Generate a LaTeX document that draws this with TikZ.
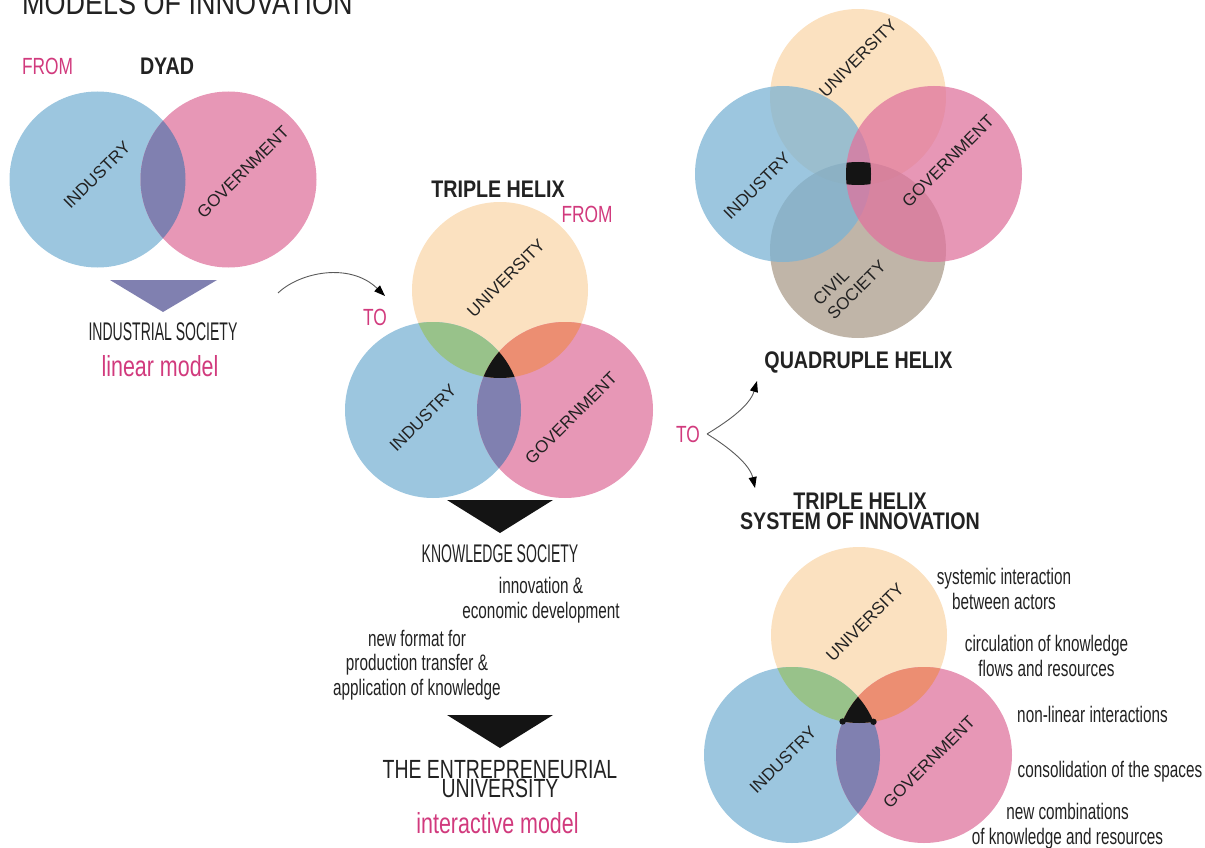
\documentclass[tikz,border=0pt]{standalone}
\usepackage{fontspec}
\setmainfont{Liberation Sans}
\newfontfamily\capsfont[FakeStretch=0.55]{Liberation Sans}
\newfontfamily\condfont[FakeStretch=0.68]{Liberation Sans}
\newfontfamily\midfont[FakeStretch=0.74]{Liberation Sans}
\newfontfamily\headfont[FakeStretch=0.82]{Liberation Sans}
\usetikzlibrary{arrows.meta}

\definecolor{indblue}{HTML}{9CC6DF}
\definecolor{govpink}{HTML}{E797B6}
\definecolor{unipeach}{HTML}{FBE1C0}
\definecolor{ovgreen}{HTML}{98C28A}
\definecolor{ovsalmon}{HTML}{EC8E72}
\definecolor{ovpurple}{HTML}{8080B0}
\definecolor{hotpink}{HTML}{D13A7D}
\definecolor{inkgray}{HTML}{222222}
\definecolor{qblue}{RGB}{123,179,212}
\definecolor{qpink}{RGB}{223,116,158}
\definecolor{qpeach}{RGB}{250,215,171}
\definecolor{qcivil}{RGB}{171,156,139}

\begin{document}
\begin{tikzpicture}[x=1pt,y=-1pt,>={Triangle[black,length=11pt,width=8pt]},
    circ/.style={circle,minimum size=176pt,inner sep=0pt,outer sep=0pt},
    qcirc/.style={circ,fill opacity=0.75},
    lbl/.style={rotate=45,inner sep=0pt,text=inkgray,font=\fontsize{17}{20}\selectfont},
    caps/.style={inner sep=0pt,text=inkgray,font=\capsfont\fontsize{25.5}{25.5}\selectfont},
    note/.style={inner sep=0pt,align=center,text=inkgray,font=\condfont\fontsize{22.5}{24.5}\selectfont},
    heading/.style={inner sep=0pt,align=center,text=inkgray,font=\headfont\bfseries\fontsize{24}{20}\selectfont},
    pinkword/.style={inner sep=0pt,text=hotpink,font=\midfont\fontsize{23.4}{23.4}\selectfont},
    model/.style={inner sep=0pt,text=hotpink,font=\midfont\fontsize{29}{29}\selectfont},
    flow/.style={->,draw=black!65,line width=0.9pt}]

  \useasboundingbox (0,0) rectangle (1205,848);

  \node[anchor=base west,inner sep=0pt,text=inkgray,font=\headfont\fontsize{32.9}{33}\selectfont] (title) at (22,15) {MODELS OF INNOVATION};

  % dyad
  \node[pinkword,anchor=base] (from1) at (47.5,75) {FROM};
  \node[heading,anchor=base] (dyad) at (167,75) {DYAD};
  \node[circ,fill=indblue] (dI) at (97.5,179.5) {};
  \node[circ,fill=govpink] (dG) at (228.5,179.5) {};
  \begin{scope}
    \clip (dI.center) circle (88pt);
    \fill[ovpurple] (dG.center) circle (88pt);
  \end{scope}
  \node[lbl] at (97,175) {INDUSTRY};
  \node[lbl] at (243,172) {GOVERNMENT};
  \fill[ovpurple] (110,280) -- (217,280) -- (163,312) -- cycle;
  \node[caps,anchor=base] (indsoc) at (163,340) {INDUSTRIAL SOCIETY};
  \node[model,anchor=base] (linear) at (160,376.5) {linear model};

  \coordinate (arrA) at (278,293);
  \coordinate (arrB) at (385,296);
  \draw[flow] (arrA) .. controls (300,272) and (350,262) .. (arrB);
  \node[pinkword,anchor=base] (to1) at (375,325) {TO};

  % triple helix circles
  \node[heading,anchor=base] (triple) at (498,197) {TRIPLE HELIX};
  \node[pinkword,anchor=base] (from2) at (587,222) {FROM};
  \node[circ,fill=unipeach] (tU) at (500,290) {};
  \node[circ,fill=indblue] (tI) at (433,410) {};
  \node[circ,fill=govpink] (tG) at (565,410) {};

  \node[circ,fill=unipeach] (bU) at (859,635) {};
  \node[circ,fill=indblue] (bI) at (792,755) {};
  \node[circ,fill=govpink] (bG) at (924,755) {};

  \foreach \h in {t,b}{
    \begin{scope}
      \clip (\h I.center) circle (88pt);
      \fill[ovpurple] (\h G.center) circle (88pt);
    \end{scope}
    \begin{scope}
      \clip (\h U.center) circle (88pt);
      \fill[ovgreen] (\h I.center) circle (88pt);
      \fill[ovsalmon] (\h G.center) circle (88pt);
      \clip (\h I.center) circle (88pt);
      \fill[black!92] (\h G.center) circle (88pt);
    \end{scope}
  }
  \fill[black!92] (842.6,721.5) circle (3.2pt) (873.5,721.8) circle (3.2pt);

  \node[lbl] at (506,278) {UNIVERSITY};
  \node[lbl] at (423,418) {INDUSTRY};
  \node[lbl] at (571,418) {GOVERNMENT};

  \fill[black!92] (447,500) -- (553,500) -- (500,533) -- cycle;
  \node[caps,anchor=base] (knowsoc) at (500,562) {KNOWLEDGE SOCIETY};
  \node[note,anchor=north] (innov) at (541,577) {innovation \&\\economic development};
  \node[note,anchor=north] (format) at (417,630) {new format for\\production transfer \&\\application of knowledge};
  \fill[black!92] (447,715) -- (553,715) -- (500,748) -- cycle;
  \node[inner sep=0pt,align=center,text=inkgray,font=\midfont\fontsize{26.3}{19.5}\selectfont,anchor=north] (entre) at (500,760) {THE ENTREPRENEURIAL\\UNIVERSITY};
  \node[model,anchor=base] (interactive) at (497.5,833) {interactive model};

  % quadruple helix
  \node[qcirc,fill=qpeach] (qU) at (858,97) {};
  \node[qcirc,fill=qcivil] (qC) at (858,250) {};
  \node[qcirc,fill=qblue] (qI) at (783,174) {};
  \node[qcirc,fill=qpink] (qG) at (934,174) {};
  \begin{scope}
    \clip (qU.center) circle (88pt);
    \clip (qI.center) circle (88pt);
    \clip (qG.center) circle (88pt);
    \fill[black!92] (qC.center) circle (88pt);
  \end{scope}
  \node[lbl] at (858,58) {UNIVERSITY};
  \node[lbl] at (757,186) {INDUSTRY};
  \node[lbl] at (948,161) {GOVERNMENT};
  \node[lbl,align=left] at (849.5,283) {CIVIL\\SOCIETY};
  \node[heading,anchor=base] (quad) at (858.5,368) {QUADRUPLE HELIX};

  \node[pinkword,anchor=base] (to2) at (688,442) {TO};
  \coordinate (upEnd) at (757,381);
  \coordinate (downEnd) at (755,488);
  \draw[flow] ([xshift=7pt]to2.east) .. controls (730,420) and (750,405) .. (upEnd);
  \draw[flow] ([xshift=7pt]to2.east) .. controls (730,448) and (750,465) .. (downEnd);

  % triple helix system of innovation
  \node[heading,anchor=north] (system) at (860,493) {TRIPLE HELIX\\SYSTEM OF INNOVATION};
  \node[lbl] at (865,622) {UNIVERSITY};
  \node[lbl] at (783,760) {INDUSTRY};
  \node[lbl] at (929,762) {GOVERNMENT};
  \node[note,anchor=north] (systemic) at (1004,568) {systemic interaction\\between actors};
  \node[note,anchor=north] (circul) at (1046.5,635) {circulation of knowledge\\flows and resources};
  \node[note,anchor=base] (nonlin) at (1092.5,722) {non-linear interactions};
  \node[note,anchor=base] (consol) at (1110,777) {consolidation of the spaces};
  \node[note,anchor=north] (combos) at (1067.5,803) {new combinations\\of knowledge and resources};
\end{tikzpicture}
\end{document}
